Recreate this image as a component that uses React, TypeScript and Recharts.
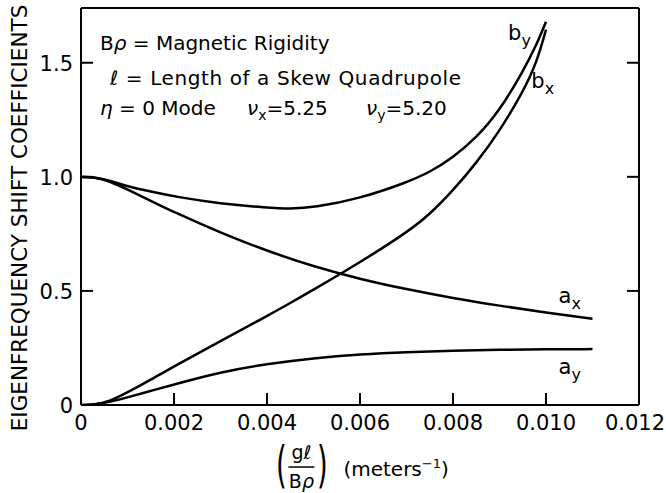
import React from 'react';
import {
  LineChart,
  Line,
  XAxis,
  YAxis,
  ReferenceDot,
} from 'recharts';

const FONT = '"DejaVu Sans", sans-serif';

// x values (g*l / B*rho, meters^-1)
const xB = [0, 0.0003, 0.0006, 0.001, 0.0015, 0.002, 0.003, 0.004, 0.0045, 0.005, 0.006, 0.007, 0.0075, 0.008, 0.0085, 0.009, 0.0095, 0.0098, 0.01];
const byVals = [1.0, 0.998, 0.985, 0.958, 0.935, 0.914, 0.882, 0.865, 0.86, 0.865, 0.905, 0.975, 1.02, 1.085, 1.17, 1.29, 1.46, 1.58, 1.68];
const bxVals = [0, 0.002, 0.015, 0.055, 0.11, 0.17, 0.28, 0.39, 0.447, 0.505, 0.625, 0.755, 0.835, 0.94, 1.06, 1.2, 1.37, 1.5, 1.645];

const xA = [0, 0.0003, 0.0006, 0.001, 0.0015, 0.002, 0.003, 0.004, 0.005, 0.006, 0.007, 0.008, 0.009, 0.01, 0.011];
const axVals = [1.0, 0.998, 0.982, 0.945, 0.895, 0.845, 0.755, 0.675, 0.607, 0.552, 0.507, 0.468, 0.435, 0.405, 0.378];
const ayVals = [0, 0.002, 0.012, 0.033, 0.062, 0.09, 0.145, 0.18, 0.205, 0.222, 0.232, 0.238, 0.242, 0.244, 0.245];

const xTicks = [0, 0.002, 0.004, 0.006, 0.008, 0.01, 0.012];
const xInnerTicks = [0.002, 0.004, 0.006, 0.008, 0.01];
const yTicks = [0, 0.5, 1.0, 1.5];
const yInnerTicks = [0.5, 1.0, 1.5];

const toPoints = (xs: number[], ys: number[]) => xs.map((x, i) => ({ x, y: ys[i] }));

const TICK_LEN = 12;

const BottomTick = (props: any) => {
  const { x, y, payload, index } = props;
  const v = payload.value;
  const last = index === xTicks.length - 1;
  return (
    <g>
      <line x1={x} x2={x} y1={y} y2={y - TICK_LEN} stroke="#000" strokeWidth={2} />
      <text x={last ? x + 26 : x} y={y + 25} textAnchor={last ? 'end' : 'middle'} fontFamily={FONT} fontSize={21} fill="#000">
        {v === 0 ? '0' : v.toFixed(3)}
      </text>
    </g>
  );
};

const LeftTick = (props: any) => {
  const { x, y, payload } = props;
  const v = payload.value;
  return (
    <g>
      <line x1={x} x2={x + TICK_LEN} y1={y} y2={y} stroke="#000" strokeWidth={2} />
      <text x={x - 8} y={y + 8} textAnchor="end" fontFamily={FONT} fontSize={21} fill="#000">
        {v === 0 ? '0' : v.toFixed(1)}
      </text>
    </g>
  );
};

const TopTick = (props: any) => {
  const { x, y } = props;
  return <line x1={x} x2={x} y1={y} y2={y + TICK_LEN} stroke="#000" strokeWidth={2} />;
};

const RightTick = (props: any) => {
  const { x, y } = props;
  return <line x1={x} x2={x - TICK_LEN} y1={y} y2={y} stroke="#000" strokeWidth={2} />;
};

const curveLabel = (main: string, sub: string) => (props: any) => {
  const { x, y } = props.viewBox;
  return (
    <text x={x} y={y} textAnchor="middle" fontFamily={FONT} fontSize={21} fill="#000">
      {main}
      <tspan fontSize={16} dy={6}>{sub}</tspan>
    </text>
  );
};

const Paren = ({ x, ch }: { x: number; ch: string }) => (
  <text
    x={x}
    y={482}
    fontSize={50}
    textAnchor="middle"
    transform={`translate(${x} 0) scale(0.55 1) translate(${-x} 0)`}
  >
    {ch}
  </text>
);

const XLabel = (props: any) => {
  const { x, width } = props.viewBox;
  const cx = x + width * 0.395;
  return (
    <g fontFamily={FONT} fill="#000">
      <Paren x={cx - 20} ch="(" />
      <Paren x={cx + 21} ch=")" />
      <text x={cx} y={459} fontSize={19} textAnchor="middle">g<tspan fontStyle="italic">ℓ</tspan></text>
      <line x1={cx - 13} x2={cx + 13} y1={467} y2={467} stroke="#000" strokeWidth={1.5} />
      <text x={cx} y={488} fontSize={19} textAnchor="middle">B<tspan fontStyle="italic">ρ</tspan></text>
      <text x={cx + 42} y={476} fontSize={20}>
        (meters<tspan fontSize={13} dy={-8}>−1</tspan><tspan dy={8}>)</tspan>
      </text>
    </g>
  );
};

const YLabel = () => (
  <text x={19} y={218} transform="rotate(-90 19 218)" textAnchor="middle" dominantBaseline="central"
    fontFamily={FONT} fontSize={21.5} fill="#000">
    EIGENFREQUENCY SHIFT COEFFICIENTS
  </text>
);

const axisStroke = { stroke: '#000', strokeWidth: 2 };

export default function App() {
  return (
    <div style={{ position: 'absolute', left: 0, top: 0, width: 666, height: 493, background: '#fff' }}>
      <LineChart width={666} height={493} margin={{ top: 7, right: 26, left: 0, bottom: 0 }}>
        <XAxis
          type="number"
          dataKey="x"
          domain={[0, 0.012]}
          ticks={xTicks}
          tickSize={0}
          tickMargin={0}
          height={88}
          axisLine={axisStroke}
          tickLine={false}
          tick={BottomTick}
          allowDataOverflow
          label={{ content: XLabel }}
        />
        <XAxis
          xAxisId="top"
          orientation="top"
          type="number"
          domain={[0, 0.012]}
          ticks={xInnerTicks}
          tickSize={0}
          tickMargin={0}
          height={1}
          axisLine={axisStroke}
          tickLine={false}
          tick={TopTick}
          allowDataOverflow
        />
        <YAxis
          type="number"
          domain={[0, 1.74]}
          ticks={yTicks}
          tickSize={0}
          tickMargin={0}
          width={81}
          axisLine={axisStroke}
          tickLine={false}
          tick={LeftTick}
          allowDataOverflow
          label={{ content: YLabel }}
        />
        <YAxis
          yAxisId="right"
          orientation="right"
          type="number"
          domain={[0, 1.74]}
          ticks={yInnerTicks}
          tickSize={0}
          tickMargin={0}
          width={1}
          axisLine={axisStroke}
          tickLine={false}
          tick={RightTick}
          allowDataOverflow
        />
        <Line data={toPoints(xB, byVals)} dataKey="y" type="basis" stroke="#000" strokeWidth={2.5} dot={false} isAnimationActive={false} />
        <Line data={toPoints(xB, bxVals)} dataKey="y" type="basis" stroke="#000" strokeWidth={2.5} dot={false} isAnimationActive={false} />
        <Line data={toPoints(xA, axVals)} dataKey="y" type="basis" stroke="#000" strokeWidth={2.5} dot={false} isAnimationActive={false} />
        <Line data={toPoints(xA, ayVals)} dataKey="y" type="basis" stroke="#000" strokeWidth={2.5} dot={false} isAnimationActive={false} />
        <ReferenceDot x={0.00943} y={1.6} r={0} label={{ content: curveLabel('b', 'y') }} />
        <ReferenceDot x={0.00993} y={1.39} r={0} label={{ content: curveLabel('b', 'x') }} />
        <ReferenceDot x={0.01051} y={0.445} r={0} label={{ content: curveLabel('a', 'x') }} />
        <ReferenceDot x={0.01051} y={0.135} r={0} label={{ content: curveLabel('a', 'y') }} />
      </LineChart>
      <svg width={666} height={140} style={{ position: 'absolute', left: 0, top: 0, pointerEvents: 'none' }}>
        <g fontFamily={FONT} fontSize={20} fill="#000">
          <text x={100} y={50}>B<tspan fontStyle="italic">ρ</tspan> = Magnetic Rigidity</text>
          <text x={110} y={85} letterSpacing={0.6}><tspan fontStyle="italic">ℓ</tspan> = Length of a Skew Quadrupole</text>
          <text x={100} y={115}><tspan fontStyle="italic">η</tspan> = 0 Mode</text>
          <text x={247} y={115}><tspan fontStyle="italic">ν</tspan><tspan fontSize={14} dy={5}>x</tspan><tspan dy={-5}>=5.25</tspan></text>
          <text x={366} y={115}><tspan fontStyle="italic">ν</tspan><tspan fontSize={14} dy={5}>y</tspan><tspan dy={-5}>=5.20</tspan></text>
        </g>
      </svg>
    </div>
  );
}
